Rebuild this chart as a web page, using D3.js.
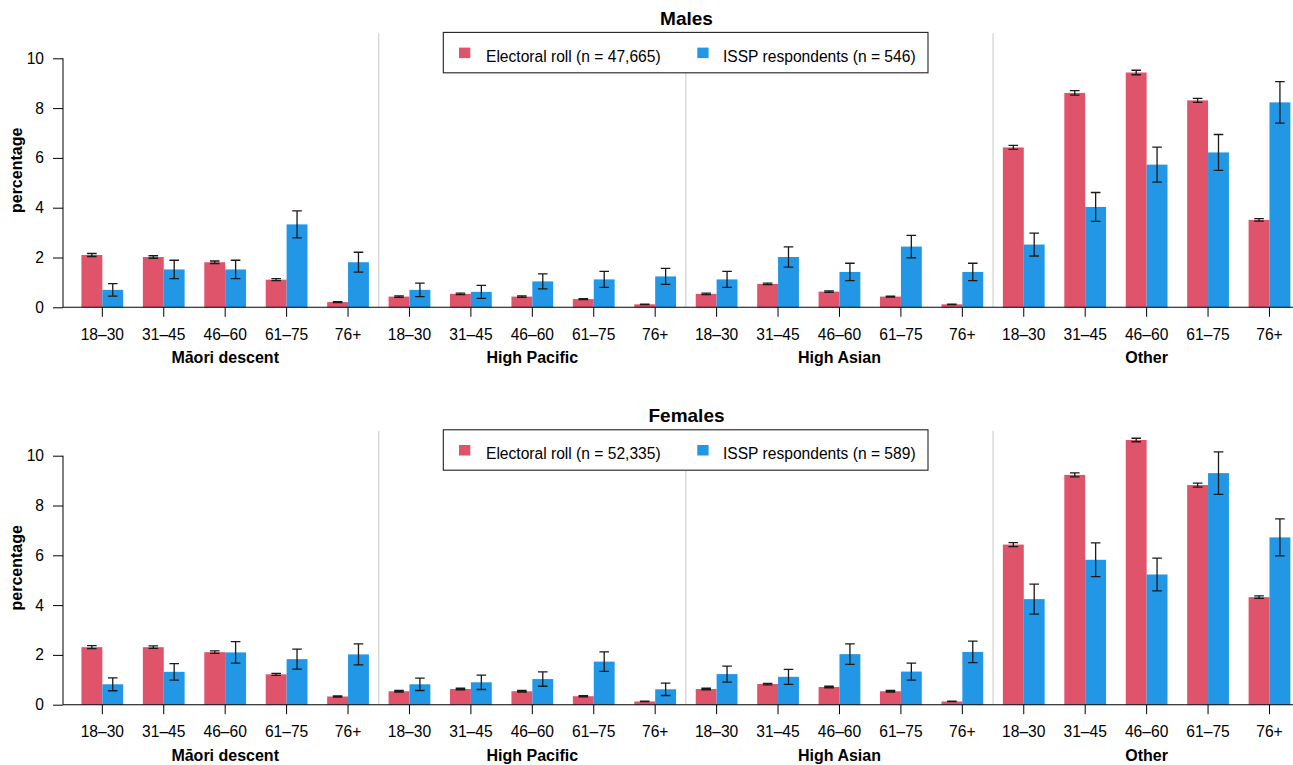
<!DOCTYPE html>
<html>
<head>
<meta charset="utf-8">
<script src="https://cdn.jsdelivr.net/npm/d3@7"></script>
<style>
  html, body { margin: 0; padding: 0; background: #fff; }
  svg { display: block; font-family: "Liberation Sans", Arial, Helvetica, sans-serif; }
</style>
</head>
<body>
<svg id="chart" width="1293" height="765"></svg>
<script>
// Age bands within each ethnic group
const ageGroups = ["18–30", "31–45", "46–60", "61–75", "76+"];
const ethnicGroups = ["Māori descent", "High Pacific", "High Asian", "Other"];
const yTicks = [0, 2, 4, 6, 8, 10];

const seriesNames = ["Electoral roll", "ISSP respondents"];
const seriesColors = ["#DF536B", "#2297E6"];

const panelTitles = ["Males", "Females"];
const rollCounts = ["47,665", "52,335"];
const isspCounts = ["546", "589"];

// Males: percentages and half-widths of the error bars
const malesRoll = [2.10, 2.02, 1.81, 1.11, 0.21, 0.43, 0.54, 0.43, 0.33, 0.12, 0.54, 0.94, 0.63, 0.43, 0.12, 6.42, 8.61, 9.43, 8.31, 3.51];
const malesRollErr = [0.06, 0.05, 0.05, 0.04, 0.02, 0.03, 0.03, 0.03, 0.02, 0.01, 0.03, 0.03, 0.03, 0.02, 0.01, 0.08, 0.09, 0.09, 0.08, 0.05];
const malesIssp = [0.70, 1.52, 1.52, 3.33, 1.81, 0.70, 0.62, 1.04, 1.12, 1.24, 1.12, 2.02, 1.42, 2.44, 1.42, 2.52, 4.03, 5.73, 6.22, 8.23];
const malesIsspErr = [0.25, 0.37, 0.37, 0.54, 0.40, 0.27, 0.26, 0.30, 0.32, 0.32, 0.32, 0.41, 0.35, 0.45, 0.35, 0.46, 0.58, 0.70, 0.72, 0.83];

// Females: percentages and half-widths of the error bars
const femalesRoll = [2.31, 2.31, 2.11, 1.22, 0.33, 0.54, 0.63, 0.54, 0.34, 0.13, 0.63, 0.83, 0.71, 0.54, 0.13, 6.43, 9.23, 10.63, 8.82, 4.32];
const femalesRollErr = [0.06, 0.05, 0.05, 0.04, 0.02, 0.03, 0.03, 0.03, 0.02, 0.01, 0.03, 0.03, 0.03, 0.03, 0.01, 0.08, 0.08, 0.07, 0.08, 0.05];
const femalesIssp = [0.82, 1.32, 2.10, 1.83, 2.02, 0.82, 0.90, 1.03, 1.73, 0.62, 1.23, 1.12, 2.03, 1.33, 2.12, 4.24, 5.82, 5.23, 9.30, 6.72];
const femalesIsspErr = [0.26, 0.33, 0.43, 0.40, 0.42, 0.25, 0.29, 0.29, 0.39, 0.25, 0.32, 0.30, 0.41, 0.34, 0.43, 0.60, 0.68, 0.66, 0.85, 0.74];

const panelValues = [
  [[malesRoll, malesRollErr], [malesIssp, malesIsspErr]],
  [[femalesRoll, femalesRollErr], [femalesIssp, femalesIsspErr]]
];

const svg = d3.select("#chart");
const tickFont = "15.6px";
const boldFont = "16px";

// category keys: one per ethnic group × age band
const keys = [];
ethnicGroups.forEach(eg => ageGroups.forEach(ag => keys.push(eg + "|" + ag)));

const plotLeft = 63, plotRight = 1310;
const x = d3.scaleBand()
  .domain(keys)
  .range([71.6, 1300.2])
  .paddingInner(0.32)
  .paddingOuter(0.16);
const xSub = d3.scaleBand().domain([0, 1]).range([0, x.bandwidth()]);

const panelBase = [307.3, 704.7];
const pxPerUnit = 24.9;

panelTitles.forEach((title, p) => {
  const y0 = panelBase[p];
  const y = d3.scaleLinear().domain([0, 11]).range([y0, y0 - 11 * pxPerUnit]);
  const plotTop = y(11);
  const g = svg.append("g");

  // group separators
  const step = x.step();
  for (let k = 1; k < ethnicGroups.length; k++) {
    const sx = x(keys[k * ageGroups.length - 1]) + x.bandwidth() / 2 + step / 2;
    g.append("line")
      .attr("x1", sx).attr("x2", sx)
      .attr("y1", plotTop).attr("y2", y(0))
      .attr("stroke", "#c8c8c8").attr("stroke-width", 1);
  }

  // bars
  panelValues[p].forEach(([vals, errs], s) => {
    g.append("g").selectAll("rect")
      .data(keys.map((k, i) => ({ k, v: vals[i], e: errs[i] })))
      .join("rect")
      .attr("x", d => x(d.k) + xSub(s))
      .attr("width", xSub.bandwidth())
      .attr("y", d => y(d.v))
      .attr("height", d => y(0) - y(d.v))
      .attr("fill", seriesColors[s]);
  });

  // error bars
  panelValues[p].forEach(([vals, errs], s) => {
    const eg = g.append("g").attr("stroke", "#1a1a1a").attr("stroke-width", 1.3).attr("fill", "none");
    keys.forEach((k, i) => {
      const cx = x(k) + xSub(s) + xSub.bandwidth() / 2;
      const lo = y(vals[i] - errs[i]), hi = y(vals[i] + errs[i]);
      const cap = 4.8;
      eg.append("path")
        .attr("d", `M${cx},${lo}V${hi}M${cx - cap},${hi}H${cx + cap}M${cx - cap},${lo}H${cx + cap}`);
    });
  });

  // baseline
  g.append("line")
    .attr("x1", plotLeft).attr("x2", plotRight)
    .attr("y1", y(0)).attr("y2", y(0))
    .attr("stroke", "#000").attr("stroke-width", 1.1);

  // y axis
  const yAxis = g.append("g")
    .attr("transform", `translate(${plotLeft},0)`)
    .call(d3.axisLeft(y).tickValues(yTicks).tickSize(10).tickPadding(9).tickSizeOuter(0));
  yAxis.select(".domain").remove();
  yAxis.append("line")
    .attr("x1", 0).attr("x2", 0)
    .attr("y1", y(0)).attr("y2", y(yTicks[yTicks.length - 1]))
    .attr("stroke", "#000");
  yAxis.selectAll(".tick line").attr("stroke", "#000");
  yAxis.selectAll(".tick text")
    .attr("font-size", tickFont).attr("font-family", "Liberation Sans, Arial, sans-serif")
    .attr("fill", "#000");

  // x axis
  const xAxis = g.append("g")
    .attr("transform", `translate(0,${y(0)})`)
    .call(d3.axisBottom(x).tickSize(9.5).tickPadding(12).tickFormat(k => k.split("|")[1]));
  xAxis.select(".domain").remove();
  xAxis.selectAll(".tick line").attr("stroke", "#000");
  xAxis.selectAll(".tick text")
    .attr("font-size", tickFont).attr("font-family", "Liberation Sans, Arial, sans-serif")
    .attr("fill", "#000");

  // ethnic group labels under the middle age band
  ethnicGroups.forEach(eg => {
    const k = eg + "|" + ageGroups[2];
    g.append("text")
      .attr("x", x(k) + x.bandwidth() / 2)
      .attr("y", y(0) + 56)
      .attr("text-anchor", "middle")
      .attr("font-size", boldFont).attr("font-weight", "bold")
      .text(eg);
  });

  // y axis title
  g.append("text")
    .attr("transform", `translate(21.5,${(plotTop + y(0)) / 2}) rotate(-90)`)
    .attr("text-anchor", "middle")
    .attr("font-size", boldFont).attr("font-weight", "bold")
    .text("percentage");

  // panel title
  const cx = (plotLeft + plotRight) / 2;
  g.append("text")
    .attr("x", cx).attr("y", plotTop - 8.5)
    .attr("text-anchor", "middle")
    .attr("font-size", "19px").attr("font-weight", "bold")
    .text(title);

  // legend
  const lg = g.append("g").attr("transform", `translate(443.3,${plotTop - 1})`);
  lg.append("rect")
    .attr("x", 0).attr("y", 0).attr("width", 484.7).attr("height", 40.4)
    .attr("fill", "#fff").attr("stroke", "#222").attr("stroke-width", 1.1);
  const legendItems = [
    { name: `${seriesNames[0]} (n = ${rollCounts[p]})`, color: seriesColors[0], sx: 15.7, tx: 42.7 },
    { name: `${seriesNames[1]} (n = ${isspCounts[p]})`, color: seriesColors[1], sx: 254, tx: 279.7 }
  ];
  legendItems.forEach(it => {
    lg.append("rect")
      .attr("x", it.sx).attr("y", 15.2).attr("width", 11.3).attr("height", 10.5)
      .attr("fill", it.color);
    lg.append("text")
      .attr("x", it.tx).attr("y", 29.6)
      .attr("font-size", tickFont)
      .text(it.name);
  });
});
</script>
</body>
</html>
